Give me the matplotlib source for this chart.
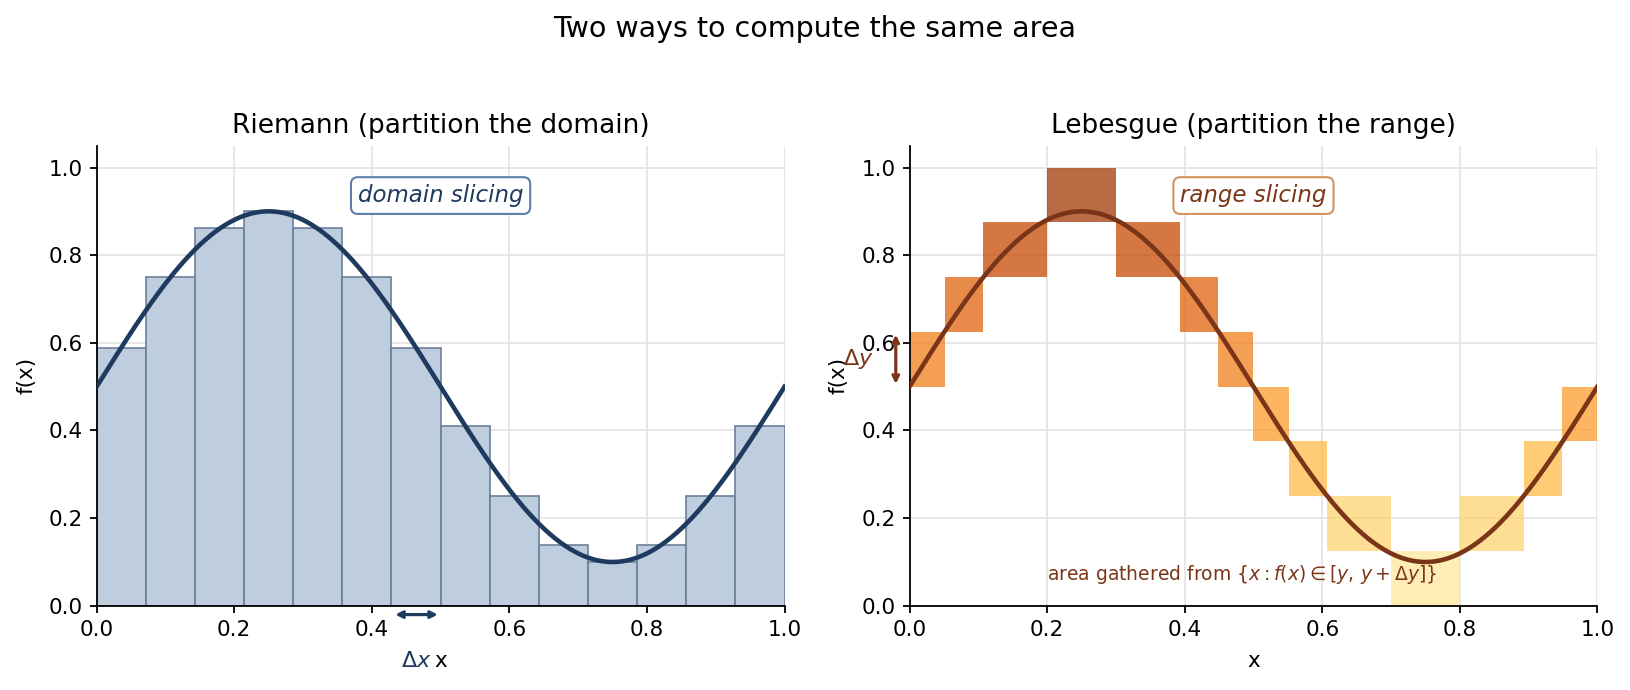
import numpy as np
import matplotlib
matplotlib.use("Agg")
import matplotlib.pyplot as plt

# Riemann: 14 equal slices of [0, 1], midpoint heights
riemann_edges = np.linspace(0, 1, 15)
riemann_heights = [0.589, 0.750, 0.861, 0.900, 0.861, 0.750, 0.589,
                   0.411, 0.250, 0.139, 0.100, 0.139, 0.250, 0.411]

# Lebesgue: x intervals where f lies in each band of height dy
leb_breaks = [0.0, 0.051, 0.107, 0.200, 0.300, 0.393, 0.449, 0.500,
              0.551, 0.607, 0.700, 0.800, 0.893, 0.949, 1.0]
leb_band_lo = [0.5, 0.625, 0.75, 0.875, 0.75, 0.625, 0.5,
               0.375, 0.25, 0.125, 0.0, 0.125, 0.25, 0.375]
dy = 0.125


def f(x):
    return 0.5 + 0.4 * np.sin(2 * np.pi * x)


xs = np.linspace(0, 1, 400)
navy = '#1f3a5f'
brown = '#7a3519'

fig = plt.figure(figsize=(16.3, 6.9), dpi=100)
ax1 = fig.add_axes([0.0593, 0.122, 0.422, 0.667])
ax2 = fig.add_axes([0.558, 0.122, 0.422, 0.667])
fig.suptitle('Two ways to compute the same area', fontsize=20.5, y=0.978)

for ax in (ax1, ax2):
    ax.set_xlim(0, 1)
    ax.set_ylim(0, 1.05)
    ax.grid(True, color='#e3e3e3', linewidth=1.2)
    ax.set_axisbelow(True)
    ax.spines['top'].set_visible(False)
    ax.spines['right'].set_visible(False)
    for s in ('left', 'bottom'):
        ax.spines[s].set_linewidth(1.3)
    ax.tick_params(labelsize=15.5, width=1.3, length=5, pad=5)
    ax.set_xlabel('x', fontsize=15.5, labelpad=8)
    ax.set_ylabel('f(x)', fontsize=15.5, labelpad=9)

# left panel
widths = np.diff(riemann_edges)
ax1.bar(riemann_edges[:-1], riemann_heights, width=widths, align='edge',
        color='#bfcedf', edgecolor='#6c7f99', linewidth=1.2, zorder=2)
ax1.plot(xs, f(xs), color=navy, linewidth=3.3, zorder=3)
ax1.set_title('Riemann (partition the domain)', fontsize=19, pad=9)
ax1.text(0.5, 0.936, 'domain slicing', style='italic', fontsize=16.5, color=navy,
         ha='center', va='center',
         bbox=dict(boxstyle='round,pad=0.3', fc='white', ec='#5b7fab', lw=1.5))
ax1.annotate('', xy=(0.43, -0.02), xytext=(0.5, -0.02), annotation_clip=False,
             arrowprops=dict(arrowstyle='<->', color=navy, lw=2.3))
ax1.text(0.465, -0.125, r'$\Delta x$', color=navy, fontsize=16, ha='center',
         va='center', clip_on=False)

# right panel
cmap = plt.get_cmap('YlOrBr')
for i in range(len(leb_band_lo)):
    lvl = leb_band_lo[i] / 0.875
    ax2.bar(leb_breaks[i], dy, width=leb_breaks[i + 1] - leb_breaks[i],
            bottom=leb_band_lo[i], align='edge', color=cmap(0.22 + 0.63 * lvl),
            alpha=0.75, linewidth=0, zorder=2)
ax2.plot(xs, f(xs), color=brown, linewidth=3.3, zorder=3)
ax2.set_title('Lebesgue (partition the range)', fontsize=19, pad=9)
ax2.text(0.5, 0.936, 'range slicing', style='italic', fontsize=16.5, color=brown,
         ha='center', va='center',
         bbox=dict(boxstyle='round,pad=0.3', fc='white', ec='#d4925a', lw=1.5))
ax2.annotate('', xy=(-0.02, 0.5), xytext=(-0.02, 0.625), annotation_clip=False,
             arrowprops=dict(arrowstyle='<->', color=brown, lw=2.3))
ax2.text(-0.074, 0.564, r'$\Delta y$', color=brown, fontsize=16, ha='center',
         va='center', clip_on=False)
ax2.text(0.2, 0.071, r'area gathered from $\{x : f(x) \in [y,\, y+\Delta y]\}$',
         color=brown, fontsize=13.5, ha='left', va='center', zorder=4)

fig.savefig('out.png', dpi=100)
